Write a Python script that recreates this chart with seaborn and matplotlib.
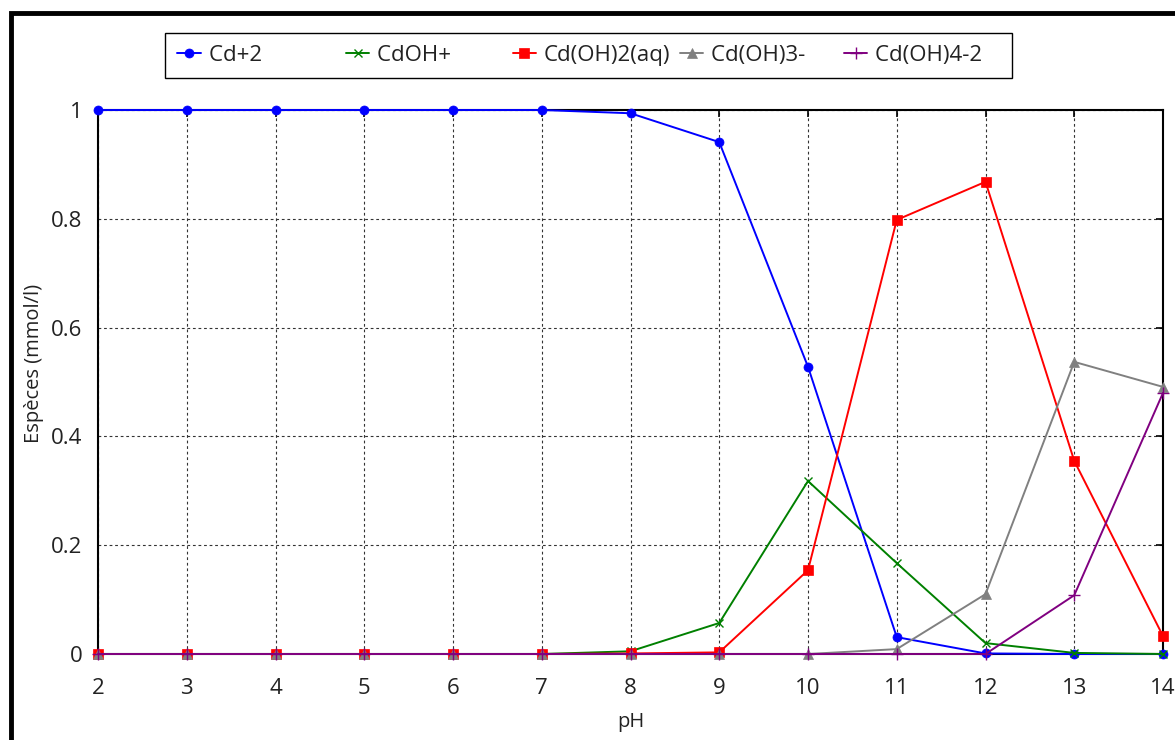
import numpy as np
import pandas as pd
import matplotlib
matplotlib.use("Agg")
import matplotlib.pyplot as plt
import matplotlib.patches as mpatches
import seaborn as sns

ph = [2, 3, 4, 5, 6, 7, 8, 9, 10, 11, 12, 13, 14]
cd2 = [1.0, 1.0, 1.0, 1.0, 1.0, 1.0, 0.994, 0.941, 0.528, 0.031, 0.001, 0.0, 0.0]
cdoh = [0.0, 0.0, 0.0, 0.0, 0.0, 0.0, 0.005, 0.057, 0.318, 0.167, 0.020, 0.002, 0.0]
cdoh2 = [0.0, 0.0, 0.0, 0.0, 0.0, 0.0, 0.001, 0.003, 0.154, 0.798, 0.868, 0.355, 0.033]
cdoh3 = [0.0, 0.0, 0.0, 0.0, 0.0, 0.0, 0.0, 0.0, 0.0, 0.009, 0.110, 0.537, 0.491]
cdoh4 = [0.0, 0.0, 0.0, 0.0, 0.0, 0.0, 0.0, 0.0, 0.0, 0.0, 0.0, 0.108, 0.480]
series_names = ["Cd+2", "CdOH+", "Cd(OH)2(aq)", "Cd(OH)3-", "Cd(OH)4-2"]
y_ticks = [0, 0.2, 0.4, 0.6, 0.8, 1.0]
y_tick_labels = ["0", "0.2", "0.4", "0.6", "0.8", "1"]
x_label = "pH"
y_label = "Espèces (mmol/l)"

sns.set_style("white")
plt.rcParams["font.family"] = ["Open Sans", "DejaVu Sans"]

fig = plt.figure(figsize=(11.75, 7.4), dpi=100)
ax = fig.add_axes([98 / 1175, 1 - 654 / 740, (1163 - 98) / 1175, (654 - 110) / 740])

styles = [
    dict(color="#0000ff", marker="o", markersize=6.5, mec="#0000ff"),
    dict(color="#008000", marker="x", markersize=6, mew=1.0),
    dict(color="#ff0000", marker="s", markersize=6.5, mec="#ff0000"),
    dict(color="#808080", marker="^", markersize=7, mec="#808080"),
    dict(color="#800080", marker="+", markersize=8, mew=1.0),
]
all_vals = [cd2, cdoh, cdoh2, cdoh3, cdoh4]
handles = []
for i, (name, vals, st) in enumerate(zip(series_names, all_vals, styles)):
    df = pd.DataFrame({"pH": ph, "val": vals})
    sns.lineplot(data=df, x="pH", y="val", ax=ax, color=st["color"], linewidth=1.4,
                 marker=st["marker"], markersize=st["markersize"],
                 markeredgecolor=st.get("mec", st["color"]),
                 markeredgewidth=st.get("mew", 0.5), clip_on=False, zorder=3 + i,
                 legend=False, errorbar=None)
    h, = ax.plot([], [], color=st["color"], linewidth=1.4, marker=st["marker"],
                 markersize=st["markersize"], markeredgecolor=st.get("mec", st["color"]),
                 markeredgewidth=st.get("mew", 0.5))
    handles.append(h)

ax.set_xlim(2, 14)
ax.set_ylim(0, 1)
ax.set_xticks(ph)
ax.set_xticklabels([str(p) for p in ph])
ax.set_yticks(y_ticks)
ax.set_yticklabels(y_tick_labels)
ax.grid(True, color="#333333", linestyle=(0, (2.5, 2.5)), linewidth=0.8)
ax.set_axisbelow(True)
for s in ax.spines.values():
    s.set_visible(True)
    s.set_color("black")
    s.set_linewidth(1.5)
ax.tick_params(axis="both", direction="in", length=5, width=1.2, colors="black",
               labelsize=16, top=True, right=True, labelcolor="#222222")
ax.tick_params(axis="y", pad=11)
ax.tick_params(axis="x", pad=17)
ax.set_xlabel(x_label, fontsize=14.5, color="#222222")
ax.set_ylabel(y_label, fontsize=14.5, color="#222222")
ax.xaxis.set_label_coords(0.5, -0.107)
ax.yaxis.set_label_coords(-0.0507, 0.535)

pad_labels = [series_names[0] + " " * 13, series_names[1] + " " * 9,
              series_names[2], series_names[3] + " " * 5, series_names[4] + " " * 3]
leg = fig.legend(handles, pad_labels, loc="upper left",
                 bbox_to_anchor=(165 / 1175, 1 - 33 / 740), ncol=5, fontsize=16,
                 frameon=True, fancybox=False, edgecolor="black", framealpha=1,
                 handlelength=1.05, handletextpad=0.36, columnspacing=0.43,
                 borderpad=0.55, borderaxespad=0)
leg.get_frame().set_linewidth(1.0)
for t in leg.get_texts():
    t.set_color("#222222")

frame = mpatches.Rectangle((11 / 1175, -0.5), 2.0, 0.5 + 1 - 13 / 740,
                           transform=fig.transFigure, fill=False, edgecolor="black",
                           linewidth=3.5, clip_on=False)
fig.patches.append(frame)

fig.savefig("out.png", dpi=100)
